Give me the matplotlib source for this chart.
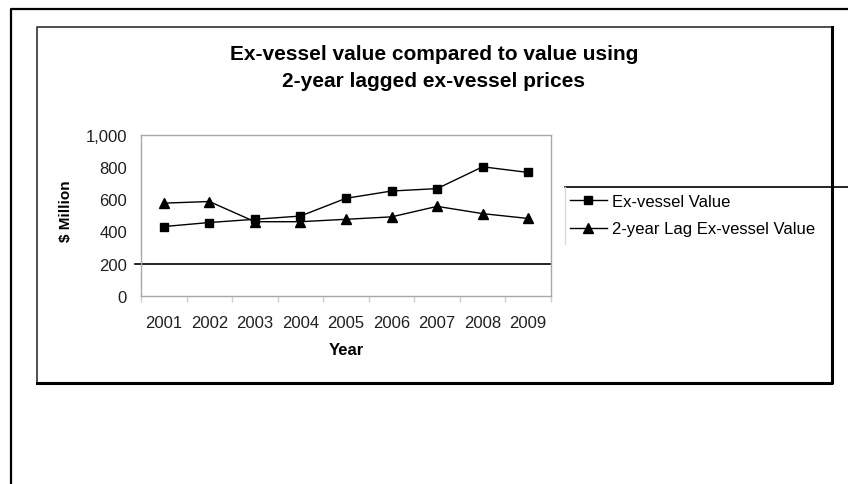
import matplotlib
matplotlib.use("Agg")
import matplotlib.pyplot as plt
from matplotlib.lines import Line2D

plt.rcParams["font.family"] = ["Liberation Sans", "DejaVu Sans"]

years = ["2001", "2002", "2003", "2004", "2005", "2006", "2007", "2008", "2009"]
ex_vessel = [430, 455, 475, 495, 605, 650, 665, 800, 765]
lag_2yr = [575, 585, 460, 460, 475, 490, 555, 510, 480]
y_ticks = [0, 200, 400, 600, 800, 1000]
y_labels = ["0", "200", "400", "600", "800", "1,000"]

W, H = 848, 485
fig = plt.figure(figsize=(W / 100, H / 100), dpi=100)


def fx(px):
    return px / W


def fy(py):
    return 1 - py / H


# outer frame (top + left only, runs off the page)
fig.add_artist(Line2D([fx(11), fx(11), 1], [0, fy(10), fy(10)], color="black", lw=1.6))
# inner chart box with shadow-ish heavier right/bottom
fig.add_artist(Line2D([fx(37), fx(37), fx(832)], [fy(384), fy(28), fy(28)],
                      color="#303030", lw=1.2))
fig.add_artist(Line2D([fx(37), fx(832), fx(832)], [fy(384), fy(384), fy(28)],
                      color="black", lw=2.2))

ax = fig.add_axes([fx(141), fy(297), fx(551) - fx(141), fy(135.5) - fy(297)])
x = range(len(years))
ax.plot(x, ex_vessel, "-", color="black", lw=1, marker="s", ms=5.8,
        label="Ex-vessel Value")
ax.plot(x, lag_2yr, "-", color="black", lw=1, marker="^", ms=7,
        label="2-year Lag Ex-vessel Value")

ax.set_xlim(-0.5, len(years) - 0.5)
ax.set_ylim(0, 1000)
ax.set_yticks(y_ticks)
ax.set_yticklabels(y_labels)
ax.set_xticks(list(x))
ax.set_xticklabels(years)
ax.set_xticks([i - 0.5 for i in range(len(years) + 1)], minor=True)
ax.tick_params(axis="y", length=0, pad=10, labelsize=12, colors="#202020")
ax.tick_params(axis="x", which="major", length=0, pad=14, labelsize=12, colors="#202020")
ax.tick_params(axis="x", which="minor", length=4, color="#d0d0d0", width=1)
for s in ax.spines.values():
    s.set_color("#a8a8a8")
    s.set_linewidth(1)

# the single visible gridline at 200
ax.axhline(200, xmin=-6 / 410, xmax=1, color="black", lw=1.2, clip_on=False)

ax.set_xlabel("Year", fontsize=12, fontweight="bold", labelpad=8)
fig.text(fx(66), fy(211), "$ Million", rotation=90, fontsize=11, fontweight="bold",
         ha="center", va="center")

fig.text(fx(434), fy(68), "Ex-vessel value compared to value using\n2-year lagged ex-vessel prices",
         ha="center", va="center", fontsize=15, fontweight="bold", linespacing=1.55)

leg = ax.legend(loc="upper left", bbox_to_anchor=(fx(565), fy(190)),
                bbox_transform=fig.transFigure, frameon=False, fontsize=12,
                handlelength=2.2, handletextpad=0.3, labelspacing=0.75,
                borderaxespad=0, borderpad=0.3)
# legend box edges: black top, faint left
fig.add_artist(Line2D([fx(565), fx(848)], [fy(188), fy(188)], color="black", lw=1.2))
fig.add_artist(Line2D([fx(565), fx(565)], [fy(188), fy(245)], color="#d8d8d8", lw=1))

fig.savefig("out.png", dpi=100)
